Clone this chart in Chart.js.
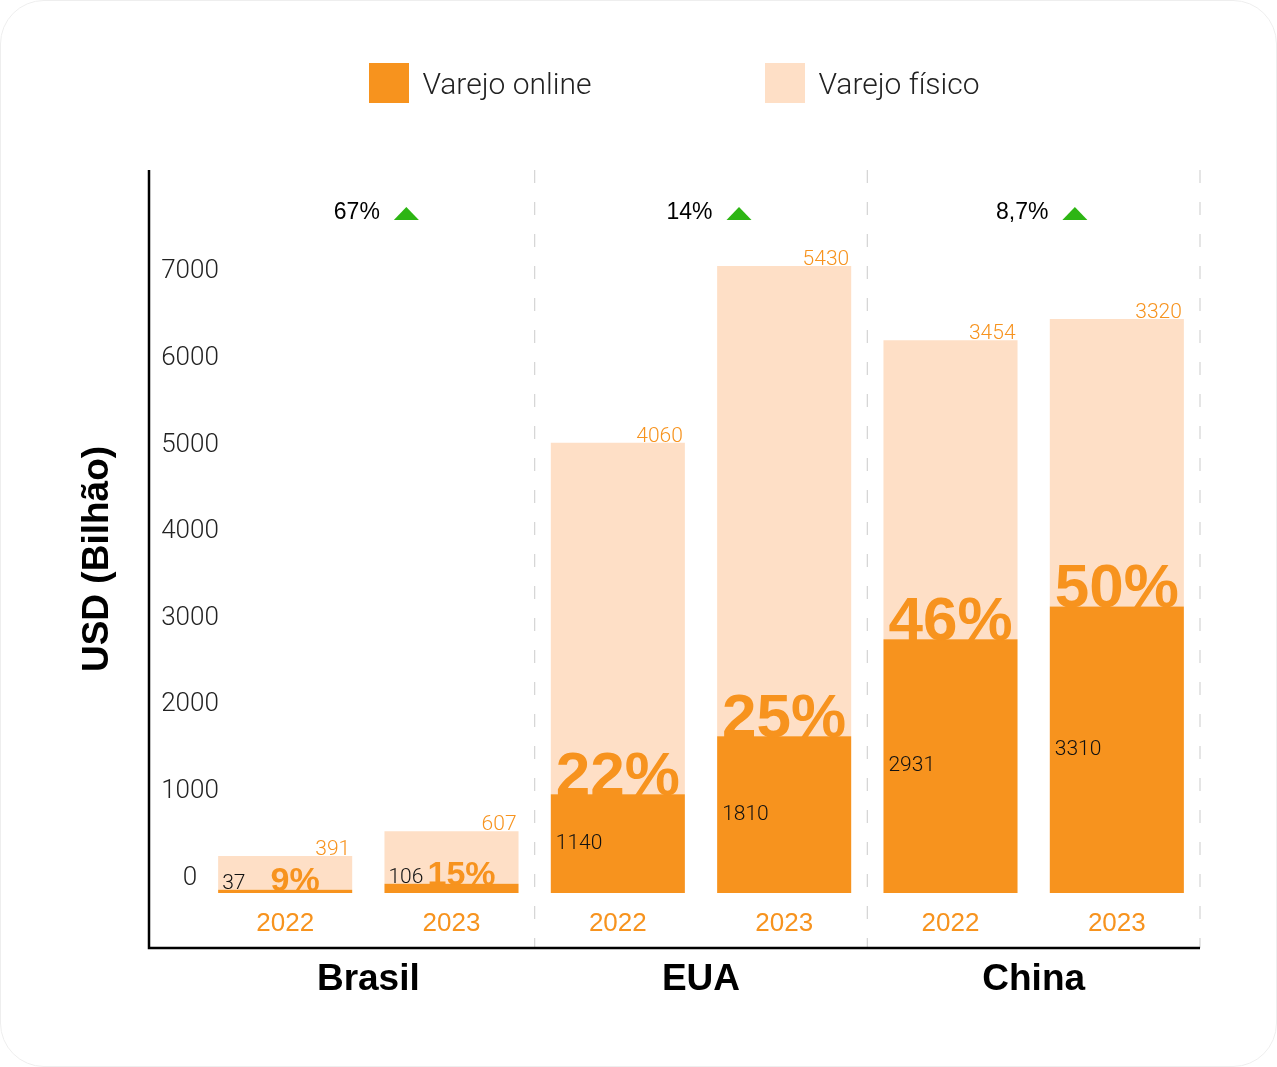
<!DOCTYPE html>
<html lang="pt-BR">
<head>
<meta charset="utf-8">
<title>Varejo online x Varejo físico</title>
<script src="https://cdn.jsdelivr.net/npm/chart.js@4.4.1/dist/chart.umd.min.js"></script>
<style>
    html, body { margin: 0; padding: 0; background: #fff; }
    .card { position: relative; width: 1277px; height: 1067px; overflow: hidden; }
    .frame { position: absolute; inset: 0; border: 1px solid #eeeeee; border-radius: 44px; pointer-events: none; }
    canvas { position: absolute; left: 0; top: 0; }
    .legend { position: absolute; left: 149px; width: 1051px; top: 63px; display: flex; justify-content: center; gap: 174px; }
    .legend-item { display: flex; align-items: center; height: 40px; font-family: Roboto, sans-serif; font-weight: 300; font-size: 30px; color: #222; }
    .swatch { width: 40px; height: 40px; margin-right: 13px; }
</style>
</head>
<body>
<div class="card">
    <canvas id="retailChart" width="1277" height="1067"></canvas>
    <div class="legend">
        <div class="legend-item"><span class="swatch" style="background:#F7931E"></span>Varejo online</div>
        <div class="legend-item"><span class="swatch" style="background:#FEDFC6"></span>Varejo físico</div>
    </div>
    <div class="frame"></div>
</div>
<script>
const countries = ['Brasil', 'EUA', 'China'];
const years = ['2022', '2023', '2022', '2023', '2022', '2023'];
const online = [37, 106, 1140, 1810, 2931, 3310];
const fisico = [391, 607, 4060, 5430, 3454, 3320];
const growth = ['67%', '14%', '8,7%'];
const yTicks = [0, 1000, 2000, 3000, 4000, 5000, 6000, 7000];

const ORANGE = '#F7931E';
const PEACH = '#FEDFC6';
const GREEN = '#2DB514';

// tick labels, labels, separators and axis lines drawn on top of the bars
const overlay = {
    id: 'overlay',
    afterDatasetsDraw(chart) {
        const { ctx, chartArea, scales: { x, y } } = chart;
        const axisBottom = x.bottom;
        ctx.save();

        // dashed separators between countries
        ctx.strokeStyle = '#d4d4d4';
        ctx.lineWidth = 1.2;
        ctx.setLineDash([13, 19]);
        const seps = [];
        for (let g = 1; g < countries.length; g++) {
            seps.push((x.getPixelForValue(2 * g - 1) + x.getPixelForValue(2 * g)) / 2);
        }
        seps.push(chartArea.right);
        seps.forEach(px => {
            ctx.beginPath();
            ctx.moveTo(px, chartArea.top);
            ctx.lineTo(px, axisBottom);
            ctx.stroke();
        });
        ctx.setLineDash([]);

        // axis lines
        ctx.strokeStyle = '#000';
        ctx.lineWidth = 2.5;
        ctx.beginPath();
        ctx.moveTo(y.left, chartArea.top);
        ctx.lineTo(y.left, axisBottom);
        ctx.lineTo(chartArea.right, axisBottom);
        ctx.stroke();

        // y tick labels (they sit over the plot edge, so chart.js would clip them)
        ctx.font = '300 26px Roboto';
        ctx.fillStyle = '#222';
        ctx.textAlign = 'center';
        ctx.textBaseline = 'middle';
        y.ticks.forEach(t => {
            ctx.fillText(String(t.value), chartArea.left - 12, y.getPixelForValue(t.value) - 15);
        });

        // y title
        ctx.save();
        ctx.translate(y.left - 51, (chartArea.top + axisBottom) / 2);
        ctx.rotate(-Math.PI / 2);
        ctx.font = 'bold 37px "Liberation Sans"';
        ctx.fillStyle = '#000';
        ctx.textAlign = 'center';
        ctx.textBaseline = 'middle';
        ctx.fillText('USD (Bilhão)', 0, 0);
        ctx.restore();

        // bar labels
        const mOnline = chart.getDatasetMeta(0);
        const mFisico = chart.getDatasetMeta(1);
        online.forEach((v, i) => {
            const bo = mOnline.data[i];
            const bf = mFisico.data[i];
            const left = bo.x - bo.width / 2;
            const right = bo.x + bo.width / 2;
            const tall = bo.base - bo.y > 40;

            ctx.textBaseline = 'alphabetic';
            ctx.font = '300 21px Roboto';
            ctx.fillStyle = ORANGE;
            ctx.textAlign = 'right';
            ctx.fillText(fisico[i], right - 2, bf.y - 1);

            const pct = Math.round(v / (v + fisico[i]) * 100) + '%';
            ctx.font = tall ? 'bold 62px "Liberation Sans"' : 'bold 34px "Liberation Sans"';
            ctx.textAlign = 'center';
            ctx.fillText(pct, tall ? bo.x : bo.x + 10, bo.y + 1);

            ctx.font = '300 21px Roboto';
            ctx.fillStyle = '#111';
            ctx.textAlign = 'left';
            if (tall) {
                ctx.textBaseline = 'middle';
                ctx.fillText(v, left + 5, (bo.y + bo.base) / 2);
            } else {
                ctx.fillText(v, left + 4, bo.y - 1);
            }
        });

        // growth per country
        ctx.font = '23px "Liberation Sans"';
        ctx.textBaseline = 'middle';
        ctx.textAlign = 'left';
        growth.forEach((txt, g) => {
            const cx = (x.getPixelForValue(2 * g) + x.getPixelForValue(2 * g + 1)) / 2;
            const tw = ctx.measureText(txt).width;
            const total = tw + 14 + 25;
            const sx = cx - total / 2 + 8;
            const ty = chartArea.top + 43;
            ctx.fillStyle = '#000';
            ctx.fillText(txt, sx, ty);
            const tx = sx + tw + 14;
            ctx.fillStyle = GREEN;
            ctx.beginPath();
            ctx.moveTo(tx, ty + 7);
            ctx.lineTo(tx + 25, ty + 7);
            ctx.lineTo(tx + 12.5, ty - 6);
            ctx.closePath();
            ctx.fill();
        });

        ctx.restore();
    }
};

document.addEventListener('DOMContentLoaded', () => {
    const ctx = document.getElementById('retailChart').getContext('2d');

    new Chart(ctx, {
        type: 'bar',
        data: {
            labels: years,
            datasets: [
                { label: 'Varejo online', data: online, backgroundColor: ORANGE },
                { label: 'Varejo físico', data: fisico, backgroundColor: PEACH }
            ]
        },
        options: {
            responsive: false,
            animation: false,
            layout: { padding: { left: 149, right: 77, top: 170, bottom: 49 } },
            datasets: { bar: { categoryPercentage: 1, barPercentage: 0.806, borderWidth: 0 } },
            plugins: {
                legend: { display: false },
                tooltip: { enabled: false }
            },
            scales: {
                x: {
                    stacked: true,
                    offset: true,
                    weight: 0,
                    grid: { display: false, drawTicks: false },
                    border: { display: false },
                    ticks: {
                        autoSkip: false,
                        maxRotation: 0,
                        color: ORANGE,
                        padding: 15,
                        font: { family: 'Liberation Sans', size: 26 }
                    },
                    afterFit: (scale) => { scale.height = 55; }
                },
                x2: {
                    type: 'category',
                    labels: countries,
                    position: 'bottom',
                    offset: true,
                    weight: 1,
                    grid: { display: false, drawTicks: false },
                    border: { display: false },
                    ticks: {
                        color: '#000',
                        padding: 10,
                        font: { family: 'Liberation Sans', weight: 'bold', size: 37 }
                    },
                    afterFit: (scale) => { scale.height = 70; }
                },
                y: {
                    stacked: true,
                    min: 0,
                    max: 8350,
                    grid: { display: false, drawTicks: false },
                    border: { display: false },
                    ticks: { display: false },
                    afterBuildTicks: (scale) => { scale.ticks = yTicks.map(v => ({ value: v })); },
                    afterFit: (scale) => { scale.width = 53; }
                }
            }
        },
        plugins: [overlay]
    });
});
</script>
</body>
</html>
